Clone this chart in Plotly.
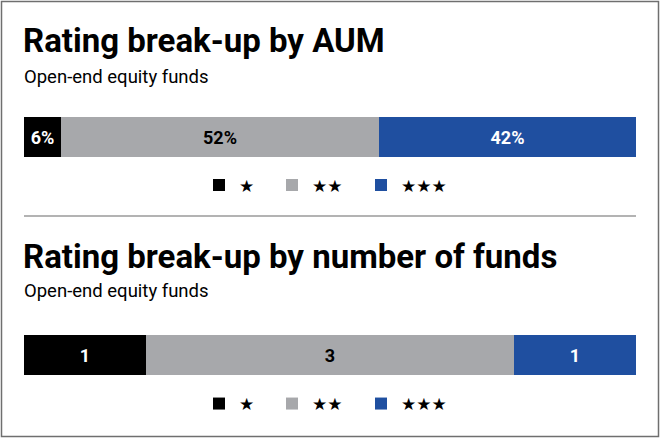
import plotly.graph_objects as go

# ---- data ----
ratings = ["★", "★★", "★★★"]
aum_share = [6, 52, 42]          # % of AUM
fund_count = [1, 3, 1]           # number of funds
titles = ["Rating break-up by AUM", "Rating break-up by number of funds"]
subtitle = "Open-end equity funds"

# ---- style ----
colors = ["#000000", "#a7a8ab", "#1f4fa0"]
text_colors = ["#ffffff", "#000000", "#ffffff"]
FONT = "Roboto, Liberation Sans, sans-serif"
W, H = 660, 438
ML, MR = 24, 24
PW = W - ML - MR
legend_left_px = [199, 272, 361]   # left edges of the legend entries


def py(y):
    return 1 - y / H


def px(x):
    return (x - ML) / PW


fig = go.Figure()
charts = [(aum_share, "{}%", "x", "y", 0), (fund_count, "{}", "x2", "y2", 3)]
for values, fmt, xa, ya, leg0 in charts:
    for i, r in enumerate(ratings):
        n = leg0 + i + 1
        fig.add_trace(go.Bar(
            y=[0], x=[values[i]], orientation="h", name=r, width=1,
            marker=dict(color=colors[i], line=dict(width=0)),
            text=[fmt.format(values[i])], textposition="inside", insidetextanchor="middle",
            textfont=dict(color=text_colors[i], size=18, family=FONT, weight="bold"),
            xaxis=xa, yaxis=ya, legend="legend" if n == 1 else f"legend{n}",
            hoverinfo="skip"))

axis_common = dict(visible=False, fixedrange=True, showgrid=False, zeroline=False)
legend_common = dict(orientation="h", xanchor="left", yanchor="middle",
                     font=dict(family="DejaVu Sans", size=17, color="#000"),
                     bgcolor="rgba(0,0,0,0)")

legends = {}
for k in range(6):
    key = "legend" if k == 0 else f"legend{k + 1}"
    yy = 185.5 if k < 3 else 404
    legends[key] = dict(x=px(legend_left_px[k % 3]), y=py(yy), **legend_common)

fig.update_layout(
    width=W, height=H,
    margin=dict(l=ML, r=MR, t=0, b=0),
    paper_bgcolor="white", plot_bgcolor="white",
    barmode="stack", bargap=0,
    xaxis=dict(domain=[0, 1], range=[0, sum(aum_share)], anchor="y", **axis_common),
    yaxis=dict(domain=[py(157), py(117)], range=[-0.5, 0.5], anchor="x", **axis_common),
    xaxis2=dict(domain=[0, 1], range=[0, sum(fund_count)], anchor="y2", **axis_common),
    yaxis2=dict(domain=[py(375), py(335)], range=[-0.5, 0.5], anchor="x2", **axis_common),
    showlegend=True,
    shapes=[
        dict(type="rect", xref="paper", yref="paper", x0=px(1.5), x1=px(658.5),
             y0=py(436.5), y1=py(1.5), line=dict(color="#6f6f6f", width=1.5),
             fillcolor="rgba(0,0,0,0)", layer="below"),
        dict(type="line", xref="paper", yref="paper", x0=0, x1=1,
             y0=py(216), y1=py(216), line=dict(color="#9a9a9a", width=1.5)),
    ],
    annotations=[
        dict(text=titles[0], xref="paper", yref="paper", x=px(21), y=py(40), xanchor="left",
             yanchor="middle", showarrow=False,
             font=dict(family=FONT, size=33, color="#000", weight="bold")),
        dict(text=subtitle, xref="paper", yref="paper", x=px(22), y=py(77), xanchor="left",
             yanchor="middle", showarrow=False,
             font=dict(family=FONT, size=18.5, color="#000")),
        dict(text=titles[1], xref="paper", yref="paper", x=px(21), y=py(256.5), xanchor="left",
             yanchor="middle", showarrow=False,
             font=dict(family=FONT, size=33, color="#000", weight="bold")),
        dict(text=subtitle, xref="paper", yref="paper", x=px(22), y=py(291), xanchor="left",
             yanchor="middle", showarrow=False,
             font=dict(family=FONT, size=18.5, color="#000")),
    ],
)
fig.update_layout(**legends)

fig.write_html("out.html", config={"displayModeBar": False},
               post_script="document.body.style.margin='0';")
